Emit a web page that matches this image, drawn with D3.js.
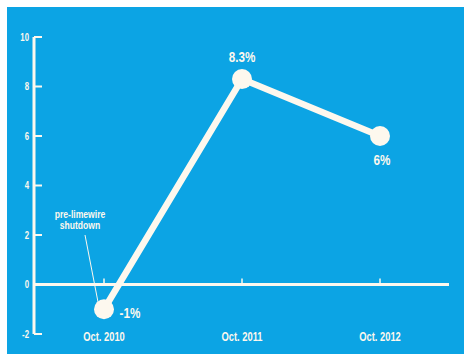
<!DOCTYPE html>
<html>
<head>
<meta charset="utf-8">
<script src="https://cdn.jsdelivr.net/npm/d3@7"></script>
<style>
  body { margin: 0; background: #ffffff; }
  svg text { font-family: "Liberation Sans", "DejaVu Sans", sans-serif; font-weight: bold; fill: #fdf8ee; }
</style>
</head>
<body>
<div id="chart"></div>
<script>
// Data
const periods = ["Oct. 2010", "Oct. 2011", "Oct. 2012"];
const growth = [-1, 8.3, 6];
const valueLabels = ["-1%", "8.3%", "6%"];
const yTicks = [-2, 0, 2, 4, 6, 8, 10];

const W = 464, H = 354;
const cream = "#fdf8ee";

const svg = d3.select("#chart")
  .append("svg")
  .attr("width", W)
  .attr("height", H);

// condensed-looking text: squeeze horizontally
function label(px, py, str, size, anchor) {
  svg.append("g")
    .attr("transform", `translate(${px},${py}) scale(0.78,1)`)
    .append("text")
    .attr("dy", "0.35em")
    .attr("text-anchor", anchor)
    .attr("font-size", size + "px")
    .text(str);
}

// Blue panel
svg.append("rect")
  .attr("x", 7)
  .attr("y", 7)
  .attr("width", W - 7)
  .attr("height", H - 7)
  .attr("fill", "#0ca4e4");

// Scales
const x = d3.scalePoint()
  .domain(periods)
  .range([104, 380]);

const y = d3.scaleLinear()
  .domain([-2, 10])
  .range([334, 37]);

const axisX = 34;

// Y axis line
svg.append("line")
  .attr("x1", axisX).attr("x2", axisX)
  .attr("y1", y(10)).attr("y2", y(-2))
  .attr("stroke", cream)
  .attr("stroke-width", 3);

// Y ticks and labels
yTicks.forEach(t => {
  svg.append("line")
    .attr("x1", axisX).attr("x2", axisX + 8)
    .attr("y1", y(t)).attr("y2", y(t))
    .attr("stroke", cream)
    .attr("stroke-width", 2);
  label(axisX - 5, y(t), t, 10, "end");
});

// X axis line at zero
svg.append("line")
  .attr("x1", axisX).attr("x2", 449)
  .attr("y1", y(0)).attr("y2", y(0))
  .attr("stroke", cream)
  .attr("stroke-width", 3);

// X ticks and labels
periods.forEach(p => {
  svg.append("line")
    .attr("x1", x(p)).attr("x2", x(p))
    .attr("y1", y(0)).attr("y2", y(0) - 6)
    .attr("stroke", cream)
    .attr("stroke-width", 1.5);
  label(x(p), 337, p, 12, "middle");
});

// Annotation
svg.append("line")
  .attr("x1", 85).attr("y1", 235)
  .attr("x2", 98).attr("y2", 302)
  .attr("stroke", cream)
  .attr("stroke-width", 1);

label(80, 214, "pre-limewire", 11, "middle");
label(80, 225, "shutdown", 11, "middle");

// Line
const line = d3.line()
  .x((d, i) => x(periods[i]))
  .y(d => y(d));

svg.append("path")
  .datum(growth)
  .attr("d", line)
  .attr("fill", "none")
  .attr("stroke", cream)
  .attr("stroke-width", 6.5);

// Points
svg.selectAll(".dot")
  .data(growth)
  .enter()
  .append("circle")
  .attr("cx", (d, i) => x(periods[i]))
  .attr("cy", d => y(d))
  .attr("r", 10)
  .attr("fill", cream);

// Value labels
const labelOffsets = [[26, 3], [0, -22], [2, 24]];
growth.forEach((d, i) => {
  label(x(periods[i]) + labelOffsets[i][0], y(d) + labelOffsets[i][1], valueLabels[i], 15, "middle");
});
</script>
</body>
</html>
